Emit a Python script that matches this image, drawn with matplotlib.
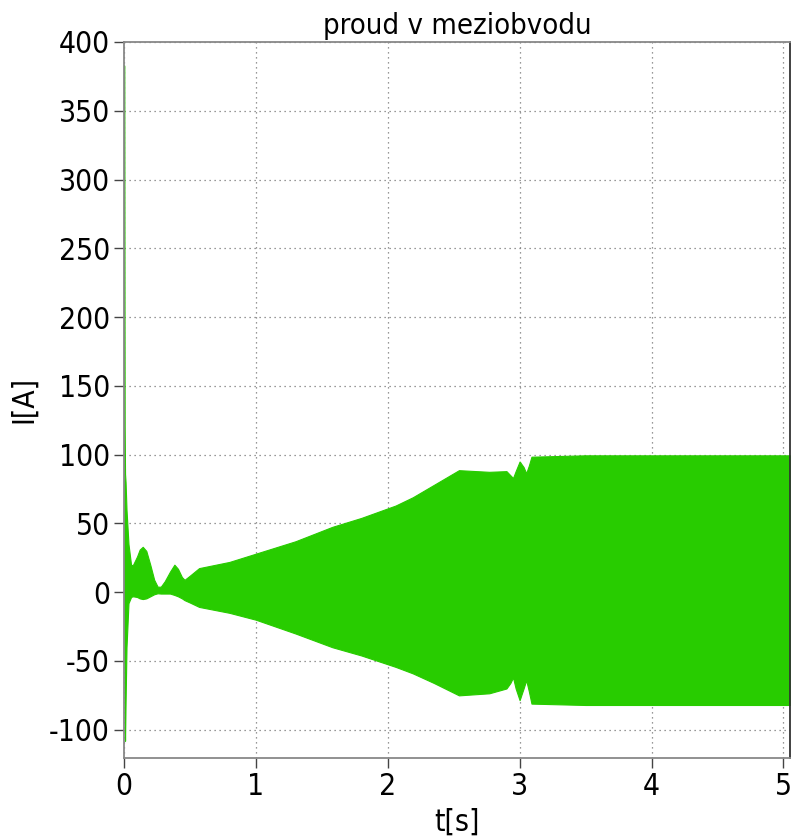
import matplotlib
matplotlib.use("Agg")
import matplotlib.pyplot as plt

# envelope of the (densely oscillating) DC-link current
t_env = [0.0, 0.002, 0.004, 0.006, 0.009, 0.013, 0.02, 0.035, 0.055, 0.07, 0.1,
         0.12, 0.143, 0.17, 0.2, 0.23, 0.256, 0.28, 0.31, 0.35, 0.383, 0.41,
         0.44, 0.46, 0.5, 0.57, 0.8, 1.0, 1.3, 1.58, 1.8, 2.06, 2.19, 2.35,
         2.54, 2.77, 2.9, 2.93, 2.95, 2.97, 3.0, 3.03, 3.05, 3.07, 3.09, 3.5,
         4.0, 4.5, 5.05]
i_upper = [0, 383, 250, 120, 86, 80, 60, 35, 19.6, 20, 26,
           31, 33, 30, 20, 9, 4, 4, 8, 15, 20, 17,
           11, 9, 12, 17.5, 22, 28, 37, 47.5, 54, 63, 69, 78,
           88.7, 87.5, 88, 85, 83, 88, 95, 91, 86.5, 92, 98.5, 99.5,
           99.5, 99.5, 99.5]
i_lower = [0, -20, -50, -90, -108, -80, -40, -8, -3.4, -3, -3.5,
           -4.5, -5, -4.5, -3, -1.5, -0.8, -1, -1, -1, -2, -3,
           -4.5, -5.8, -7.5, -10.7, -15, -20, -30, -40, -46, -54.3, -59, -66,
           -75, -73.5, -70, -66, -62, -70, -78.5, -70, -64, -72, -81, -82,
           -82, -82, -82]

title = "proud v meziobvodu"
xlabel = "t[s]"
ylabel = "I[A]"
xticks = [0, 1, 2, 3, 4, 5]
yticks = [-100, -50, 0, 50, 100, 150, 200, 250, 300, 350, 400]

plt.rcParams['font.family'] = ['DejaVu Sans']
plt.rcParams['font.stretch'] = 'condensed'
plt.rcParams['axes.unicode_minus'] = False

fig = plt.figure(figsize=(7.94, 8.39), dpi=100)
ax = fig.add_axes([0.156, 0.0966, 0.839, 0.8534])

green = "#28cc00"
ax.fill_between(t_env, i_lower, i_upper, color=green, linewidth=0.8, edgecolor=green)

ax.set_xlim(0, 5.05)
ax.set_ylim(-120.5, 400)
ax.set_xticks(xticks)
ax.set_yticks(yticks)
ax.grid(True, linestyle=(0, (1, 3)), color="#777777", linewidth=0.9)
ax.set_axisbelow(True)

for s in ax.spines.values():
    s.set_color("#888888")
    s.set_linewidth(1.3)
ax.spines['right'].set_color("#333333")

ax.tick_params(axis='both', direction='out', length=7.5, width=1, color="#444444",
               labelsize=21.5, pad=2.5)
ax.set_title(title, fontsize=21, pad=6)
ax.set_xlabel(xlabel, fontsize=21.5, labelpad=5)
ax.set_ylabel(ylabel, fontsize=21.5, labelpad=8)

fig.savefig("out.png", dpi=100)
